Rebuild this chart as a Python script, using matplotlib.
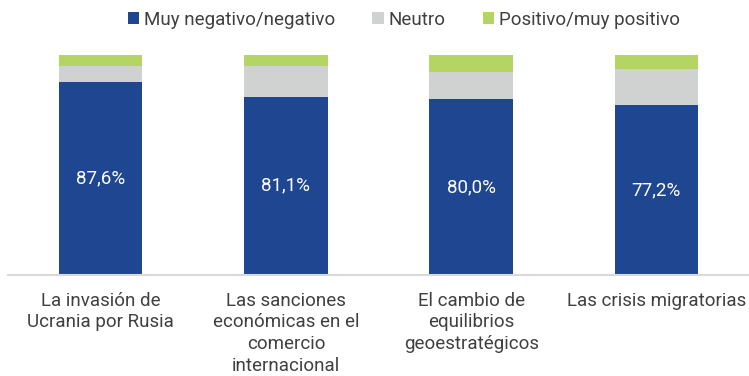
import matplotlib.pyplot as plt
import numpy as np

# Datos (% de respuestas)
categorias = ["La invasión de\nUcrania por Rusia",
              "Las sanciones\neconómicas en el\ncomercio\ninternacional",
              "El cambio de\nequilibrios\ngeoestratégicos",
              "Las crisis migratorias"]
negativo = [87.6, 81.1, 80.0, 77.2]
neutro = [7.4, 14.0, 12.4, 16.4]
positivo = [5.0, 4.9, 7.6, 6.4]

azul = "#1F4690"
gris = "#D0D1D1"
verde = "#B4D564"
texto = "#404040"

plt.rcParams['font.family'] = ['Roboto', 'DejaVu Sans']

fig = plt.figure(figsize=(7.49, 3.76), dpi=100)
ax = fig.add_axes([0.0107, 0.2686, 0.9893, 0.5851])

x = np.arange(len(categorias))
ancho = 0.45
neg = np.array(negativo)
neu = np.array(neutro)
pos = np.array(positivo)

ax.bar(x, neg, ancho, color=azul, label="Muy negativo/negativo")
ax.bar(x, neu, ancho, bottom=neg, color=gris, label="Neutro")
ax.bar(x, pos, ancho, bottom=neg + neu, color=verde, label="Positivo/muy positivo")

# etiquetas de valor dentro de la barra azul
for xi, v in zip(x, negativo):
    ax.text(xi, v / 2, f"{v:.1f}%".replace(".", ","), ha="center", va="center",
            color="white", fontsize=13.5)

ax.set_xlim(-0.5, 3.5)
ax.set_ylim(0, 100)
ax.set_yticks([])
ax.set_xticks(x)
ax.set_xticklabels(categorias, fontsize=13.5, color=texto, linespacing=1.27)
ax.tick_params(axis="x", length=0, pad=12)
for lado in ["top", "right", "left"]:
    ax.spines[lado].set_visible(False)
ax.spines["bottom"].set_color("#D9D9D9")
ax.spines["bottom"].set_linewidth(1.5)

ax.legend(loc="center", bbox_to_anchor=(0.534, 1.0 + 35 / 220), ncol=3, frameon=False,
          fontsize=13.5, labelcolor=texto, handlelength=0.6, handleheight=0.6,
          handletextpad=0.25, columnspacing=2.0, borderaxespad=0)

fig.savefig("out.png", dpi=100)
